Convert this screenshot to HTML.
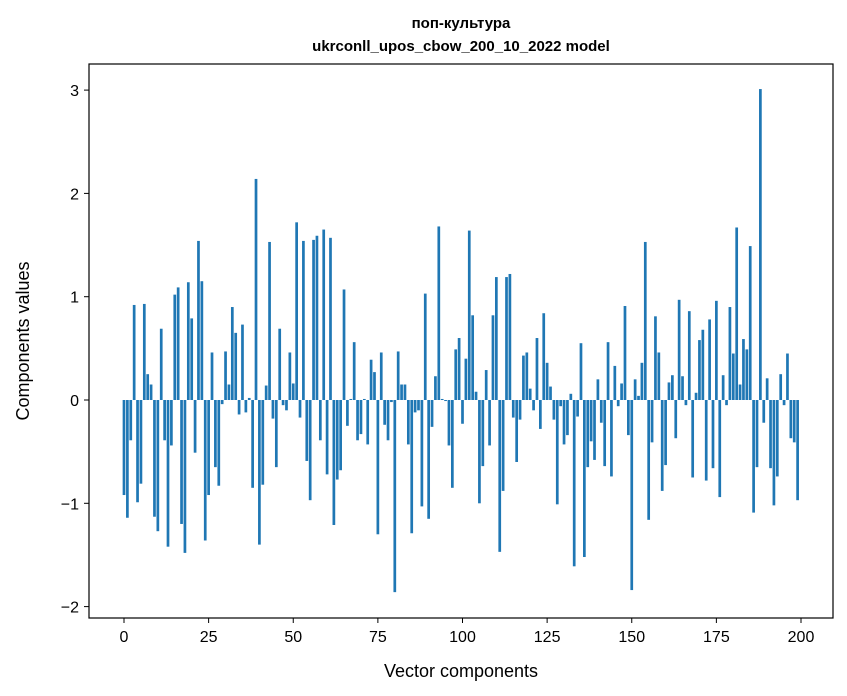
<!DOCTYPE html>
<html><head><meta charset="utf-8"><style>
body{margin:0;background:#fff}
svg{display:block;font-family:"Liberation Sans","DejaVu Sans",sans-serif}
</style></head><body>
<svg id="chart" width="847" height="696">
<text x="461" y="28" text-anchor="middle" font-size="15" font-weight="bold">поп-культура</text>
<text x="461" y="51" text-anchor="middle" font-size="15" font-weight="bold">ukrconll_upos_cbow_200_10_2022 model</text>
<g id="bars"></g>
<rect x="89" y="64" width="744" height="554" fill="none" stroke="#000" stroke-width="1.2"/>
<g id="xticks"></g>
<g id="yticks"></g>
<text x="461" y="677" text-anchor="middle" font-size="18">Vector components</text>
<text transform="translate(29,341) rotate(-90)" text-anchor="middle" font-size="18">Components values</text>
</svg>
<script>
const values = [-0.92,-1.14,-0.39,0.92,-0.99,-0.81,0.93,0.25,0.15,-1.13,-1.27,0.69,-0.39,-1.42,-0.44,1.02,1.09,-1.2,-1.48,1.14,
0.79,-0.51,1.54,1.15,-1.36,-0.92,0.46,-0.65,-0.83,-0.04,0.47,0.15,0.9,0.65,-0.14,0.73,-0.12,0.02,-0.85,2.14,
-1.4,-0.82,0.14,1.53,-0.18,-0.65,0.69,-0.05,-0.1,0.46,0.16,1.72,-0.17,1.54,-0.59,-0.97,1.55,1.59,-0.39,1.65,
-0.72,1.57,-1.21,-0.77,-0.68,1.07,-0.25,0.01,0.56,-0.39,-0.33,0.01,-0.43,0.39,0.27,-1.3,0.46,-0.24,-0.39,-0.02,
-1.86,0.47,0.15,0.15,-0.43,-1.29,-0.12,-0.1,-1.03,1.03,-1.15,-0.26,0.23,1.68,0.01,-0.01,-0.44,-0.85,0.49,0.6,
-0.23,0.4,1.64,0.82,0.08,-1.0,-0.64,0.29,-0.44,0.82,1.19,-1.47,-0.88,1.19,1.22,-0.17,-0.6,-0.19,0.43,0.46,
0.11,-0.1,0.6,-0.28,0.84,0.36,0.13,-0.19,-1.01,-0.06,-0.43,-0.34,0.06,-1.61,-0.16,0.55,-1.52,-0.65,-0.4,-0.58,
0.2,-0.22,-0.64,0.56,-0.74,0.33,-0.06,0.16,0.91,-0.34,-1.84,0.2,0.04,0.36,1.53,-1.16,-0.41,0.81,0.46,-0.88,
-0.63,0.17,0.24,-0.37,0.97,0.23,-0.05,0.86,-0.75,0.07,0.58,0.68,-0.78,0.78,-0.66,0.96,-0.94,0.24,-0.05,0.9,
0.45,1.67,0.15,0.59,0.49,1.49,-1.09,-0.65,3.01,-0.22,0.21,-0.66,-1.02,-0.74,0.25,-0.05,0.45,-0.37,-0.41,-0.97];
const xTicks = [0,25,50,75,100,125,150,175,200];
const yTicks = [-2,-1,0,1,2,3];
const yTickLabels = ["−2","−1","0","1","2","3"];
const NS="http://www.w3.org/2000/svg";
function xs(v){return 124+v*3.385;}
function ys(v){return 400-v*103.3;}
const bars=document.getElementById('bars');
values.forEach((v,i)=>{
  const r=document.createElementNS(NS,'rect');
  const y0=ys(0), y1=ys(v);
  r.setAttribute('x',xs(i)-1.354);
  r.setAttribute('width',2.708);
  r.setAttribute('y',Math.min(y0,y1));
  r.setAttribute('height',Math.abs(y1-y0));
  r.setAttribute('fill','#1f77b4');
  
  
  bars.appendChild(r);
});
const xg=document.getElementById('xticks');
xTicks.forEach(t=>{
  const l=document.createElementNS(NS,'line');
  l.setAttribute('x1',xs(t));l.setAttribute('x2',xs(t));l.setAttribute('y1',618);l.setAttribute('y2',623);
  l.setAttribute('stroke','#000');
  
  
  xg.appendChild(l);
  const tx=document.createElementNS(NS,'text');
  tx.setAttribute('x',xs(t));tx.setAttribute('y',642);tx.setAttribute('text-anchor','middle');tx.setAttribute('font-size','16');
  tx.textContent=t;
  
  
  xg.appendChild(tx);
});
const yg=document.getElementById('yticks');
yTicks.forEach((t,i)=>{
  const l=document.createElementNS(NS,'line');
  l.setAttribute('x1',84);l.setAttribute('x2',89);l.setAttribute('y1',ys(t));l.setAttribute('y2',ys(t));
  l.setAttribute('stroke','#000');
  
  
  yg.appendChild(l);
  const tx=document.createElementNS(NS,'text');
  tx.setAttribute('x',79);tx.setAttribute('y',ys(t)+6);tx.setAttribute('text-anchor','end');tx.setAttribute('font-size','16');
  tx.textContent=yTickLabels[i];
  
  
  yg.appendChild(tx);
});
</script>
</body></html>
